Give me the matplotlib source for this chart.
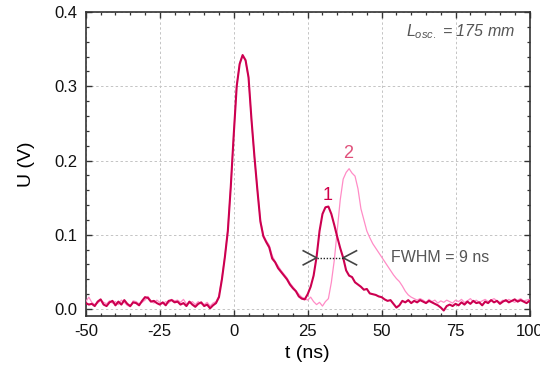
import matplotlib
matplotlib.use("Agg")
import matplotlib.pyplot as plt
from matplotlib.ticker import MultipleLocator
import numpy as np

plt.rcParams['font.family'] = ['Liberation Sans', 'DejaVu Sans']
plt.rcParams['mathtext.fontset'] = 'custom'
plt.rcParams['mathtext.it'] = 'Liberation Sans:italic'
plt.rcParams['mathtext.rm'] = 'Liberation Sans'
plt.rcParams['axes.unicode_minus'] = False

# time axis of the oscilloscope traces (ns)
t = np.arange(-50, 101, 1)

# trace 1 (U, volts)
u1 = [
    0.008, 0.006, 0.007, 0.004, 0.010, 0.013, 0.006, 0.004, 0.009, 0.011,   # -50..-41
    0.005, 0.010, 0.006, 0.012, 0.007, 0.004, 0.009, 0.008, 0.005, 0.011,   # -40..-31
    0.016, 0.015, 0.010, 0.011, 0.008, 0.006, 0.009, 0.005, 0.011, 0.012,   # -30..-21
    0.009, 0.010, 0.006, 0.008, 0.004, 0.010, 0.006, 0.003, 0.007, 0.009,   # -20..-11
    0.004, 0.006, 0.001, 0.005, 0.008, 0.016, 0.040, 0.070, 0.105, 0.165,   # -10..-1
    0.235, 0.300, 0.330, 0.342, 0.335, 0.312, 0.255, 0.205, 0.160, 0.118,   # 0..9
    0.098, 0.090, 0.083, 0.068, 0.063, 0.055, 0.050, 0.045, 0.040, 0.033,   # 10..19
    0.028, 0.024, 0.017, 0.014, 0.013, 0.020, 0.030, 0.045, 0.070, 0.105,   # 20..29
    0.128, 0.137, 0.138, 0.128, 0.113, 0.097, 0.082, 0.069, 0.052, 0.045,   # 30..39
    0.043, 0.036, 0.033, 0.030, 0.026, 0.027, 0.021, 0.020, 0.019, 0.017,   # 40..49
    0.016, 0.013, 0.011, 0.012, 0.007, 0.002, 0.005, 0.011, 0.009, 0.012,   # 50..59
    0.008, 0.011, 0.009, 0.012, 0.010, 0.008, 0.011, 0.009, 0.007, 0.005,   # 60..69
    0.002, -0.002, 0.004, 0.006, 0.004, 0.007, 0.005, 0.009, 0.006, 0.010,  # 70..79
    0.007, 0.011, 0.008, 0.009, 0.005, 0.010, 0.008, 0.012, 0.009, 0.011,   # 80..89
    0.007, 0.010, 0.012, 0.009, 0.011, 0.013, 0.010, 0.012, 0.010, 0.008,   # 90..99
    0.011,                                                                  # 100
]

# trace 2 (U, volts)
u2 = [
    0.010, 0.016, 0.009, 0.006, 0.008, 0.012, 0.009, 0.007, 0.011, 0.008,   # -50..-41
    0.010, 0.006, 0.012, 0.009, 0.005, 0.003, 0.011, 0.010, 0.007, 0.009,   # -40..-31
    0.012, 0.017, 0.011, 0.008, 0.012, 0.009, 0.007, 0.010, 0.008, 0.013,   # -30..-21
    0.011, 0.012, 0.009, 0.013, 0.007, 0.008, 0.010, 0.006, 0.010, 0.007,   # -20..-11
    0.006, 0.009, 0.004, 0.008, 0.010, 0.018, 0.042, 0.071, 0.107, 0.166,   # -10..-1
    0.236, 0.301, 0.331, 0.341, 0.334, 0.311, 0.254, 0.204, 0.161, 0.120,   # 0..9
    0.100, 0.092, 0.086, 0.072, 0.064, 0.058, 0.052, 0.047, 0.042, 0.035,   # 10..19
    0.030, 0.025, 0.020, 0.016, 0.014, 0.012, 0.016, 0.010, 0.006, 0.009,   # 20..29
    0.004, 0.010, 0.014, 0.036, 0.066, 0.106, 0.147, 0.175, 0.184, 0.189,   # 30..39
    0.183, 0.179, 0.162, 0.135, 0.120, 0.105, 0.096, 0.088, 0.082, 0.076,   # 40..49
    0.070, 0.064, 0.058, 0.052, 0.046, 0.041, 0.037, 0.031, 0.024, 0.019,   # 50..59
    0.016, 0.014, 0.012, 0.014, 0.012, 0.009, 0.013, 0.010, 0.012, 0.008,   # 60..69
    0.011, 0.009, 0.012, 0.010, 0.008, 0.012, 0.010, 0.013, 0.009, 0.011,   # 70..79
    0.014, 0.010, 0.012, 0.009, 0.011, 0.013, 0.010, 0.012, 0.014, 0.011,   # 80..89
    0.009, 0.012, 0.010, 0.013, 0.011, 0.009, 0.012, 0.014, 0.011, 0.012,   # 90..99
    0.013,                                                                  # 100
]

# FWHM of pulse 1
fwhm_ns = 9
fwhm_center = 32.5
half_max = max(u1[t.tolist().index(25):]) / 2

c1 = '#cc0050'
c2 = '#ff8cc6'

fig = plt.figure(figsize=(5.4, 3.71), dpi=100)
ax = fig.add_axes([0.159, 0.148, 0.8216, 0.8197])

ax.plot(t, u2, color=c2, lw=0.9, zorder=3)
ax.plot(t, u1, color=c1, lw=1.5, zorder=4)

ax.set_xlim(-50, 100)
ax.set_ylim(-0.0095, 0.4)
ax.xaxis.set_major_locator(MultipleLocator(25))
ax.xaxis.set_minor_locator(MultipleLocator(5))
ax.yaxis.set_major_locator(MultipleLocator(0.1))
ax.yaxis.set_minor_locator(MultipleLocator(0.02))
ax.yaxis.set_major_formatter(plt.FuncFormatter(lambda v, p: f"{v:.1f}"))

ax.tick_params(which='both', direction='in', top=True, right=True,
               color='#333333', labelsize=12, labelcolor='#111111')
ax.tick_params(which='major', length=4.5, width=1.0, pad=6)
ax.tick_params(which='minor', length=2.5, width=0.9)
for s in ax.spines.values():
    s.set_color('#333333')
    s.set_linewidth(1.2)

ax.grid(True, which='major', color='#c4c4c4', lw=0.7, ls=(0, (2.5, 2.5)))
ax.set_axisbelow(True)

ax.set_xlabel('t (ns)', fontsize=14, labelpad=4)
ax.set_ylabel('U (V)', fontsize=14, labelpad=14)

# peak labels
ax.text(31.7, 0.153, '1', color='#d0004a', fontsize=13, ha='center', va='center', zorder=5)
ax.text(38.8, 0.210, '2', color='#e0507a', fontsize=13, ha='center', va='center', zorder=5)

# FWHM marker
left = fwhm_center - fwhm_ns / 2
right = fwhm_center + fwhm_ns / 2
dx, dy = 4.5, 0.0095
ax.plot([left - dx, left, left - dx], [half_max + dy, half_max, half_max - dy],
        color='#444444', lw=1.2, zorder=6)
ax.plot([right + dx, right, right + dx], [half_max + dy, half_max, half_max - dy],
        color='#444444', lw=1.2, zorder=6)
ax.plot([left, right], [half_max, half_max], color='#222222', lw=1.0,
        ls=(0, (1, 1.2)), zorder=6)
ax.text(53.3, 0.070, 'FWHM = 9 ns', color='#555555', fontsize=11.5,
        ha='left', va='center')

ax.text(95.2, 0.373, r'$L_{osc.}$ = 175 mm', color='#555555', fontsize=11.5,
        style='italic', ha='right', va='center')

fig.savefig('out.png', dpi=100)
